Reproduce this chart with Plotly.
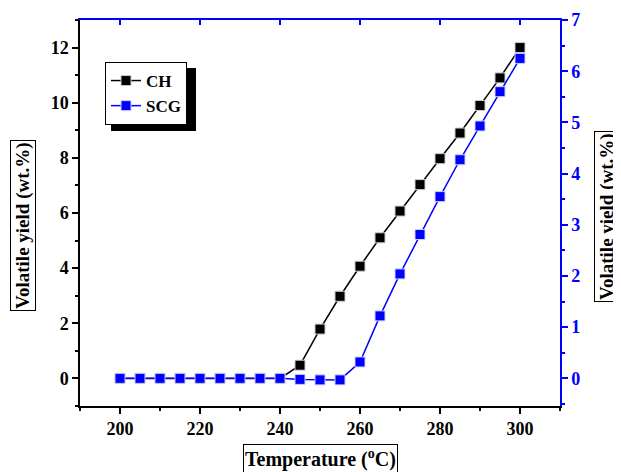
import plotly.graph_objects as go

temperature = [200, 205, 210, 215, 220, 225, 230, 235, 240, 245, 250, 255, 260, 265, 270, 275, 280, 285, 290, 295, 300]
ch_yield = [0, 0, 0, 0, 0, 0, 0, 0, 0, 0.48, 1.79, 2.98, 4.07, 5.1, 6.07, 7.03, 7.97, 8.9, 9.9, 10.9, 12.0]
scg_yield = [0, 0, 0, 0, 0, 0, 0, 0, 0, -0.02, -0.03, -0.03, 0.32, 1.22, 2.04, 2.81, 3.55, 4.27, 4.93, 5.6, 6.25]

x_ticks = [200, 220, 240, 260, 280, 300]
y_ticks = [0, 2, 4, 6, 8, 10, 12]
y2_ticks = [0, 1, 2, 3, 4, 5, 6, 7]

FONT = "Liberation Serif"
OFF = 8  # page body margin
W, H = 621 - OFF, 472 - OFF
# target plot area in page pixels: x 80..560, y 20..406
L, R, T, B = 80 - OFF, 621 - 560, 20 - OFF, 472 - 406

fig = go.Figure()
fig.add_trace(go.Scatter(
    x=temperature, y=ch_yield, name="<b>CH</b>", mode="lines+markers",
    line=dict(color="black", width=1.5),
    marker=dict(symbol="square", size=10, color="black", line=dict(color="#cccccc", width=1)),
    yaxis="y"))
fig.add_trace(go.Scatter(
    x=temperature, y=scg_yield, name="<b>SCG</b>", mode="lines+markers",
    line=dict(color="#0000ff", width=1.5),
    marker=dict(symbol="square", size=10, color="#0000ff", line=dict(color="#ccccff", width=1)),
    yaxis="y2"))
# dummy trace to activate top axis (blue frame line)
fig.add_trace(go.Scatter(x=[190], y=[0], xaxis="x2", yaxis="y", mode="markers",
                         marker=dict(opacity=0), showlegend=False, hoverinfo="skip"))

def px_x(p):
    # p in page pixels
    return (p - OFF - L) / (W - L - R)

def px_y(p):
    return 1 - (p - OFF - T) / (H - T - B)

fig.update_layout(
    template="none",
    width=W, height=H,
    margin=dict(l=L, r=R, t=T, b=B, autoexpand=False),
    plot_bgcolor="white", paper_bgcolor="white",
    font=dict(family=FONT, size=16, color="black"),
    showlegend=True,
    legend=dict(x=px_x(105), y=px_y(62), xanchor="left", yanchor="top",
                bgcolor="white", bordercolor="black", borderwidth=1,
                font=dict(family=FONT, size=17, color="black"),
                tracegroupgap=0, itemwidth=30),
    xaxis=dict(range=[190, 310], tickvals=x_ticks, ticktext=[f"<b>{v}</b>" for v in x_ticks],
               automargin=False,
               showgrid=False, zeroline=False, showline=True, linecolor="black", linewidth=1.5,
               ticks="outside", ticklen=6, tickwidth=1.5, tickcolor="black",
               minor=dict(dtick=10, tick0=190, ticks="outside", ticklen=3, tickwidth=1.5, tickcolor="black", showgrid=False),
               tickfont=dict(family=FONT, size=18, color="black")),
    xaxis2=dict(range=[190, 310], overlaying="x", side="top", showline=True, linecolor="#0000ff",
                automargin=False,
                linewidth=1.5, showticklabels=False, showgrid=False, zeroline=False,
                ticks="inside", tickvals=x_ticks, ticklen=5, tickcolor="#0000ff", tickwidth=1.5),
    yaxis=dict(range=[-1, 13], tickvals=y_ticks, ticktext=[f"<b>{v}</b>" for v in y_ticks],
               automargin=False,
               showgrid=False, zeroline=False, showline=True, linecolor="black", linewidth=1.5,
               ticks="outside", ticklen=6, tickwidth=1.5, tickcolor="black",
               minor=dict(dtick=1, tick0=-1, ticks="outside", ticklen=3, tickwidth=1.5, tickcolor="black", showgrid=False),
               tickfont=dict(family=FONT, size=18, color="black")),
    yaxis2=dict(range=[-0.54, 7], tickvals=y2_ticks, ticktext=[f"<b>{v}</b>" for v in y2_ticks],
                overlaying="y", side="right", automargin=False,
                showgrid=False, zeroline=False, showline=True, linecolor="#0000ff", linewidth=1.5,
                ticks="outside", ticklen=6, tickwidth=1.5, tickcolor="#0000ff",
                minor=dict(dtick=0.5, tick0=0, ticks="outside", ticklen=3, tickwidth=1.5, tickcolor="#0000ff", showgrid=False),
                tickfont=dict(family=FONT, size=18, color="#0000ff")),
)

# legend shadow
fig.add_shape(type="rect", xref="paper", yref="paper",
              x0=px_x(111), x1=px_x(196), y0=px_y(131), y1=px_y(68),
              fillcolor="black", line=dict(width=0), layer="below")

# boxed axis titles
fig.add_annotation(text="<b>Temperature (<sup>o</sup>C)</b>", xref="paper", yref="paper",
                   x=px_x(320), y=px_y(458), xanchor="center", yanchor="middle", showarrow=False,
                   font=dict(family=FONT, size=20, color="black"),
                   bordercolor="black", borderwidth=1, borderpad=1, bgcolor="white")
fig.add_annotation(text="<b>Volatile yield (wt.%)</b>", xref="paper", yref="paper",
                   x=px_x(23), y=px_y(226), xanchor="center", yanchor="middle", showarrow=False, textangle=-90,
                   font=dict(family=FONT, size=19, color="black"),
                   bordercolor="black", borderwidth=1, borderpad=1, bgcolor="white")
fig.add_annotation(text="<b>Volatile yield (wt.%)</b>", xref="paper", yref="paper",
                   x=px_x(607), y=px_y(217), xanchor="center", yanchor="middle", showarrow=False, textangle=-90,
                   font=dict(family=FONT, size=19, color="black"),
                   bordercolor="black", borderwidth=1, borderpad=1, bgcolor="white")

fig.write_html("out.html")
